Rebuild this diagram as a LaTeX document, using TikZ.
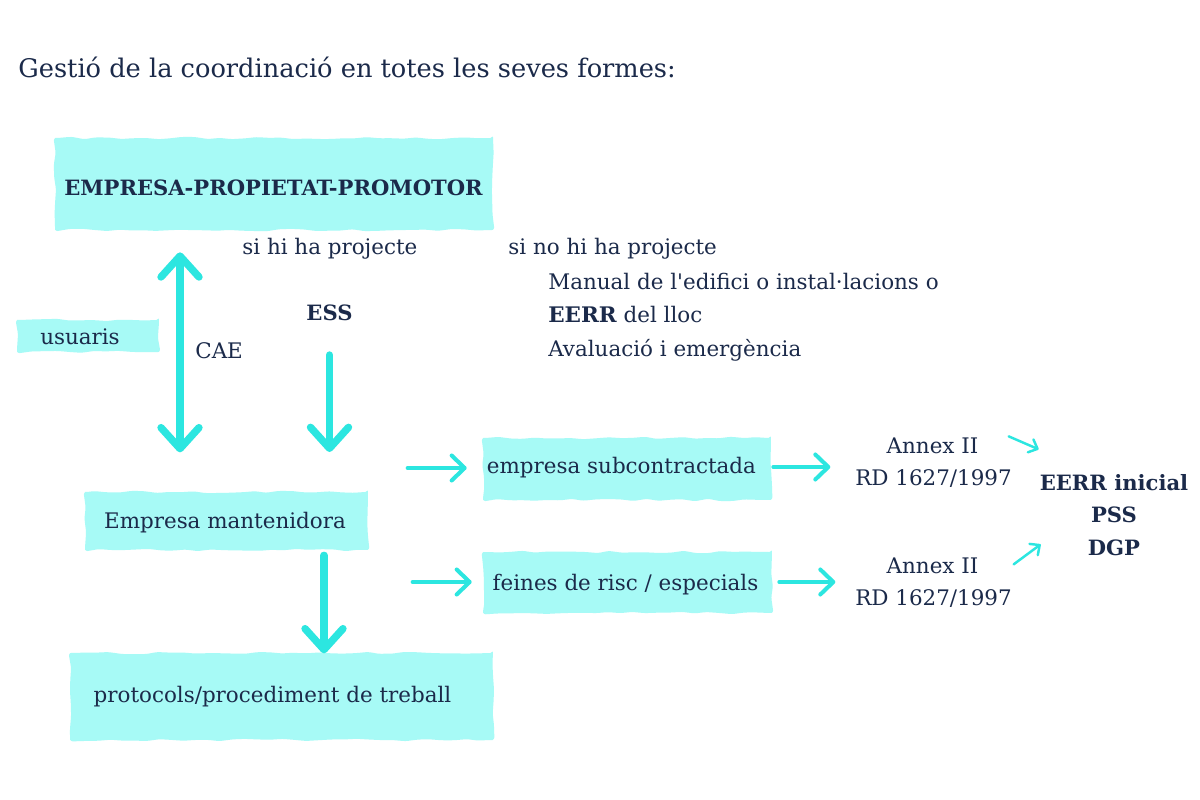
\documentclass[tikz,border=0pt]{standalone}
\usepackage{fontspec}
\setmainfont{DejaVu Serif}[Ligatures=TeXOff]
\usetikzlibrary{arrows.meta,decorations.pathmorphing}
\definecolor{ink}{HTML}{1B2A4A}
\definecolor{boxc}{HTML}{A7FAF6}
\definecolor{arr}{HTML}{2CE6E0}
\begin{document}
\begin{tikzpicture}[x=0.02cm,y=-0.02cm,
  txt/.style={text=ink, font=\fontsize{12.2}{15}\selectfont, inner sep=0pt},
  bld/.style={text=ink, font=\fontsize{12}{15}\selectfont\bfseries, inner sep=0pt},
  ttl/.style={text=ink, font=\fontsize{14.6}{18}\selectfont, inner sep=0pt},
  brush/.style={fill=boxc, inner sep=0pt, decorate, decoration={random steps,segment length=7pt,amplitude=0.7pt}, rounded corners=1.5pt},
  bigarrow/.style={draw=arr, line width=4.2pt, line cap=round, line join=round, >={Straight Barb[length=0.42cm, width=0.76cm, round]}},
  midarrow/.style={draw=arr, line width=2.3pt, line cap=round, line join=round, >={Straight Barb[length=0.26cm, width=0.5cm, round]}},
  smallarrow/.style={draw=arr, line width=1.4pt, line cap=round, line join=round, >={Straight Barb[length=0.15cm, width=0.28cm, round]}}
]
\pgfmathsetseed{7}
\useasboundingbox (0,0) rectangle (1200,800);
\fill[white] (0,0) rectangle (1200,800);

% title
\node[ttl, anchor=base west] (title) at (18,78) {Gestió de la coordinació en totes les seves formes:};

% boxes
\node[brush, minimum width=8.76cm, minimum height=1.84cm] (empBox) at (274,184) {};
\node[brush, minimum width=2.84cm, minimum height=0.64cm] (usuBox) at (88,336) {};
\node[brush, minimum width=5.76cm, minimum height=1.24cm] (subBox) at (627,469) {};
\node[brush, minimum width=5.78cm, minimum height=1.22cm] (feinBox) at (627.5,582.5) {};
\node[brush, minimum width=5.66cm, minimum height=1.16cm] (mantBox) at (226.5,521) {};
\node[brush, minimum width=8.46cm, minimum height=1.74cm] (protBox) at (281.5,696.5) {};

% box texts
\node[bld, anchor=base] (emp) at (273.5,196) {EMPRESA-PROPIETAT-PROMOTOR};
\node[txt, anchor=base] (usu) at (80,345) {usuaris};
\node[txt, anchor=base] (sub) at (621.5,473) {empresa subcontractada};
\node[txt, anchor=base] (fein) at (625.5,590) {feines de risc / especials};
\node[txt, anchor=base] (mant) at (225,528) {Empresa mantenidora};
\node[txt, anchor=base] (prot) at (272.5,702) {protocols/procediment de treball};

% free texts
\node[txt, anchor=base west] (sihi) at (242,255) {si hi ha projecte};
\node[txt, anchor=base west] (sino) at (508,255) {si no hi ha projecte};
\node[txt, anchor=base west] (man) at (548,290) {Manual de l'edifici o instal·lacions o};
\node[txt, anchor=base west] (eerr) at (548,323) {\textbf{EERR} del lloc};
\node[txt, anchor=base west] (aval) at (548,357) {Avaluació i emergència};
\node[bld, anchor=base] (ess) at (329.5,321) {ESS};
\node[txt, anchor=base west] (cae) at (195,358) {CAE};

\node[txt, anchor=base] (annA1) at (932.5,453) {Annex II};
\node[txt, anchor=base] (annA2) at (933.5,485) {RD 1627/1997};
\node[txt, anchor=base] (annB1) at (932.5,573) {Annex II};
\node[txt, anchor=base] (annB2) at (933.5,605) {RD 1627/1997};

\node[bld, anchor=base] (res1) at (1114,490) {EERR inicial};
\node[bld, anchor=base] (res2) at (1114,522) {PSS};
\node[bld, anchor=base] (res3) at (1114,555) {DGP};

% big arrows
\draw[bigarrow,<->] (empBox.south) ++(-94,22) -- ++(0,200);
\draw[bigarrow,->] (ess.base) ++(0,34) -- ++(0,97);
\draw[bigarrow,->] (mantBox.south) ++(97.5,5) -- ++(0,98);

% medium arrows
\draw[midarrow,->] (subBox.west) ++(-75,-1) -- ++(59,0);
\draw[midarrow,->] (feinBox.west) ++(-70,-0.5) -- ++(59,0);
\draw[midarrow,->] (subBox.east) ++(2,-2) -- ++(57,0);
\draw[midarrow,->] (feinBox.east) ++(7,-0.5) -- ++(56,0);

% small arrows
\draw[smallarrow,->] (annA1.east) ++(30,-9) -- ++(30,13);
\draw[smallarrow,->] (annB1.east) ++(35,-1) -- ++(27,-20);
\end{tikzpicture}
\end{document}
